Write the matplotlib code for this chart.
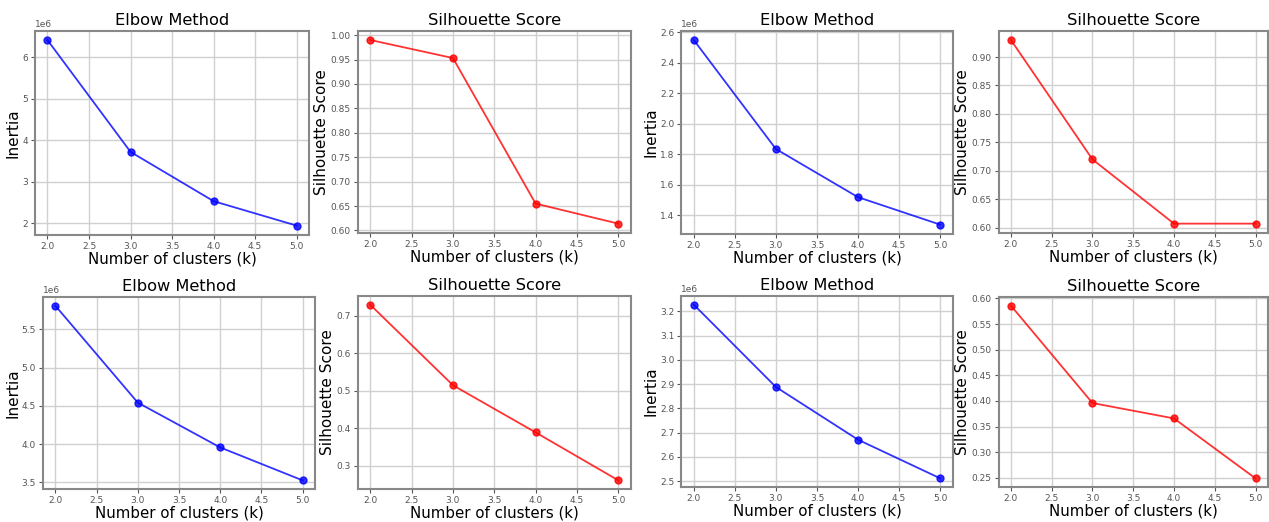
import matplotlib
matplotlib.use("Agg")
import matplotlib.pyplot as plt

k_values = [2, 3, 4, 5]

# top row, left pair
inertia_a = [6.42e6, 3.72e6, 2.53e6, 1.94e6]
silhouette_a = [0.990, 0.953, 0.655, 0.614]
# top row, right pair
inertia_b = [2.548e6, 1.833e6, 1.517e6, 1.337e6]
silhouette_b = [0.930, 0.720, 0.607, 0.607]
# bottom row, left pair
inertia_c = [5.81e6, 4.543e6, 3.957e6, 3.526e6]
silhouette_c = [0.730, 0.515, 0.389, 0.261]
# bottom row, right pair
inertia_d = [3.227e6, 2.888e6, 2.671e6, 2.512e6]
silhouette_d = [0.586, 0.396, 0.366, 0.249]

fig = plt.figure(figsize=(12.69, 5.22), dpi=100)

# axes rectangles (figure fractions)
rects = [
    [0.0276, 0.550, 0.216, 0.391],
    [0.282, 0.554, 0.215, 0.387],
    [0.537, 0.552, 0.2136, 0.389],
    [0.787, 0.554, 0.212, 0.387],
    [0.0339, 0.063, 0.2143, 0.368],
    [0.282, 0.063, 0.215, 0.370],
    [0.537, 0.067, 0.2136, 0.366],
    [0.787, 0.067, 0.212, 0.364],
]

panels = [
    ("elbow", inertia_a), ("sil", silhouette_a),
    ("elbow", inertia_b), ("sil", silhouette_b),
    ("elbow", inertia_c), ("sil", silhouette_c),
    ("elbow", inertia_d), ("sil", silhouette_d),
]

for rect, (kind, vals) in zip(rects, panels):
    ax = fig.add_axes(rect)
    if kind == "elbow":
        ax.plot(k_values, vals, "o-", color="blue", lw=1.3, ms=5, alpha=0.8)
        ax.set_title("Elbow Method", fontsize=11.7, pad=4)
        ax.set_ylabel("Inertia", fontsize=11, labelpad=1)
    else:
        ax.plot(k_values, vals, "o-", color="red", lw=1.3, ms=5, alpha=0.8)
        ax.set_title("Silhouette Score", fontsize=11.7, pad=4)
        ax.set_ylabel("Silhouette Score", fontsize=11, labelpad=1)
    ax.set_xlabel("Number of clusters (k)", fontsize=10.8, labelpad=0.5)
    ax.grid(True, color="#d0d0d0", lw=1)
    ax.tick_params(labelsize=6.5, colors="#555555", length=3, pad=2)
    ax.yaxis.get_offset_text().set_fontsize(6.5)
    ax.yaxis.get_offset_text().set_color("#555555")
    for s in ax.spines.values():
        s.set_color("#888888")
        s.set_linewidth(1.5)

fig.savefig("out.png", dpi=100)
